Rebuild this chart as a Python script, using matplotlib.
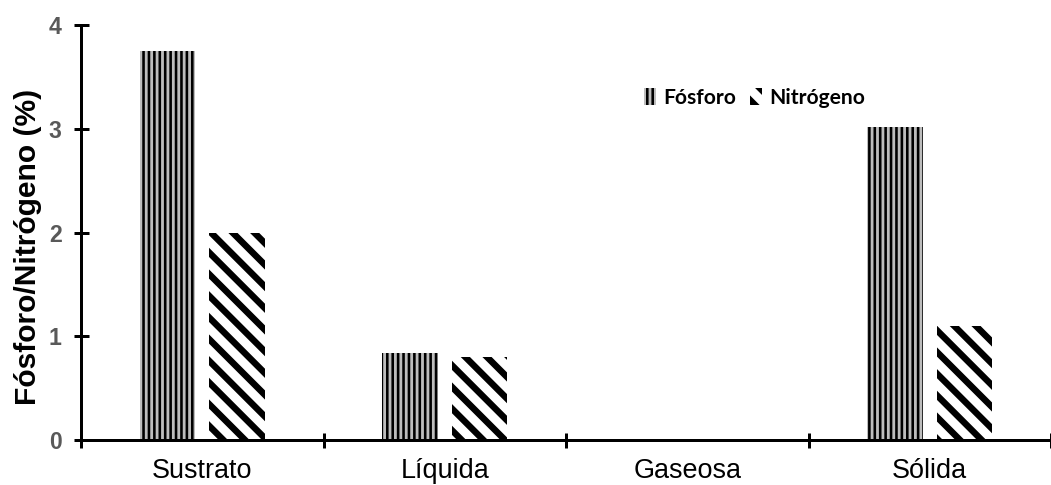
import matplotlib
matplotlib.use("Agg")
import matplotlib.pyplot as plt
import numpy as np

categories = ["Sustrato", "Líquida", "Gaseosa", "Sólida"]
fosforo = [3.75, 0.84, 0.0, 3.02]
nitrogeno = [2.0, 0.80, 0.0, 1.10]
yticks = [0, 1, 2, 3, 4]
series_names = ["Fósforo", "Nitrógeno"]

DPI = 130
W, H = 1051, 485
PX = 72.0 / DPI  # points per pixel

plt.rcParams['font.family'] = ['Liberation Sans', 'DejaVu Sans']

fig = plt.figure(figsize=(W / DPI, H / DPI), dpi=DPI)
ax = fig.add_axes([81 / W, 45 / H, 970 / W, 415 / H])

x = np.arange(len(categories))
bw = 56 / 245
off = 35 / 245

LW_P = 2.6 * PX
LW_N = 6.5 * PX


def set_hlw(patches, lw):
    for p in patches:
        if hasattr(p, "set_hatch_linewidth"):
            p.set_hatch_linewidth(lw)


with plt.rc_context({'hatch.linewidth': LW_P}):
    b1 = ax.bar(x - off, fosforo, bw, facecolor="#bdbdbd", edgecolor="black",
                linewidth=0, hatch="||||", label=series_names[0])
set_hlw(b1.patches, LW_P)
with plt.rc_context({'hatch.linewidth': LW_N}):
    b2 = ax.bar(x + off, nitrogeno, bw, facecolor="white", edgecolor="black",
                linewidth=0, hatch="\\\\", label=series_names[1])
set_hlw(b2.patches, LW_N)

ax.set_xlim(-0.5, -0.5 + 970 / 245)
ax.set_ylim(0, 4)
ax.set_yticks(yticks)
ax.set_yticklabels([str(v) for v in yticks], fontsize=23 * PX, fontweight="bold",
                   color="#595959")
ax.set_xticks(np.arange(len(categories) + 1) - 0.5, minor=False)
ax.set_xticklabels([])
ax.set_xticks(x, minor=True)
ax.set_xticklabels(categories, minor=True, fontsize=27 * PX, color="black")
ax.tick_params(axis="x", which="minor", length=0, pad=18 * PX)
ax.tick_params(axis="x", which="major", direction="inout", length=15 * PX,
               width=3 * PX, color="black")
ax.tick_params(axis="y", direction="inout", length=15 * PX, width=3 * PX,
               color="black", pad=12 * PX)

for s in ["top", "right"]:
    ax.spines[s].set_visible(False)
for s in ["left", "bottom"]:
    ax.spines[s].set_linewidth(3 * PX)
    ax.spines[s].set_color("black")

ax.set_ylabel("Fósforo/Nitrógeno (%)", fontsize=30 * PX, fontweight="bold")
ax.yaxis.set_label_coords((42 - 81) / 970, (440 - 247) / 415)

leg = fig.legend(handles=[b1, b2], labels=series_names, loc="center left",
                 bbox_to_anchor=(644 / W, 1 - 98 / H), ncol=2, frameon=False,
                 borderpad=0, borderaxespad=0, handlelength=0.55, handleheight=0.9,
                 handletextpad=0.35, columnspacing=0.7,
                 prop={"family": ["Lato", "DejaVu Sans"], "weight": "bold",
                       "size": 21 * PX})
lp = leg.get_patches()
if len(lp) == 2:
    set_hlw([lp[0]], LW_P)
    set_hlw([lp[1]], LW_N)

fig.savefig("out.png", dpi=DPI)
